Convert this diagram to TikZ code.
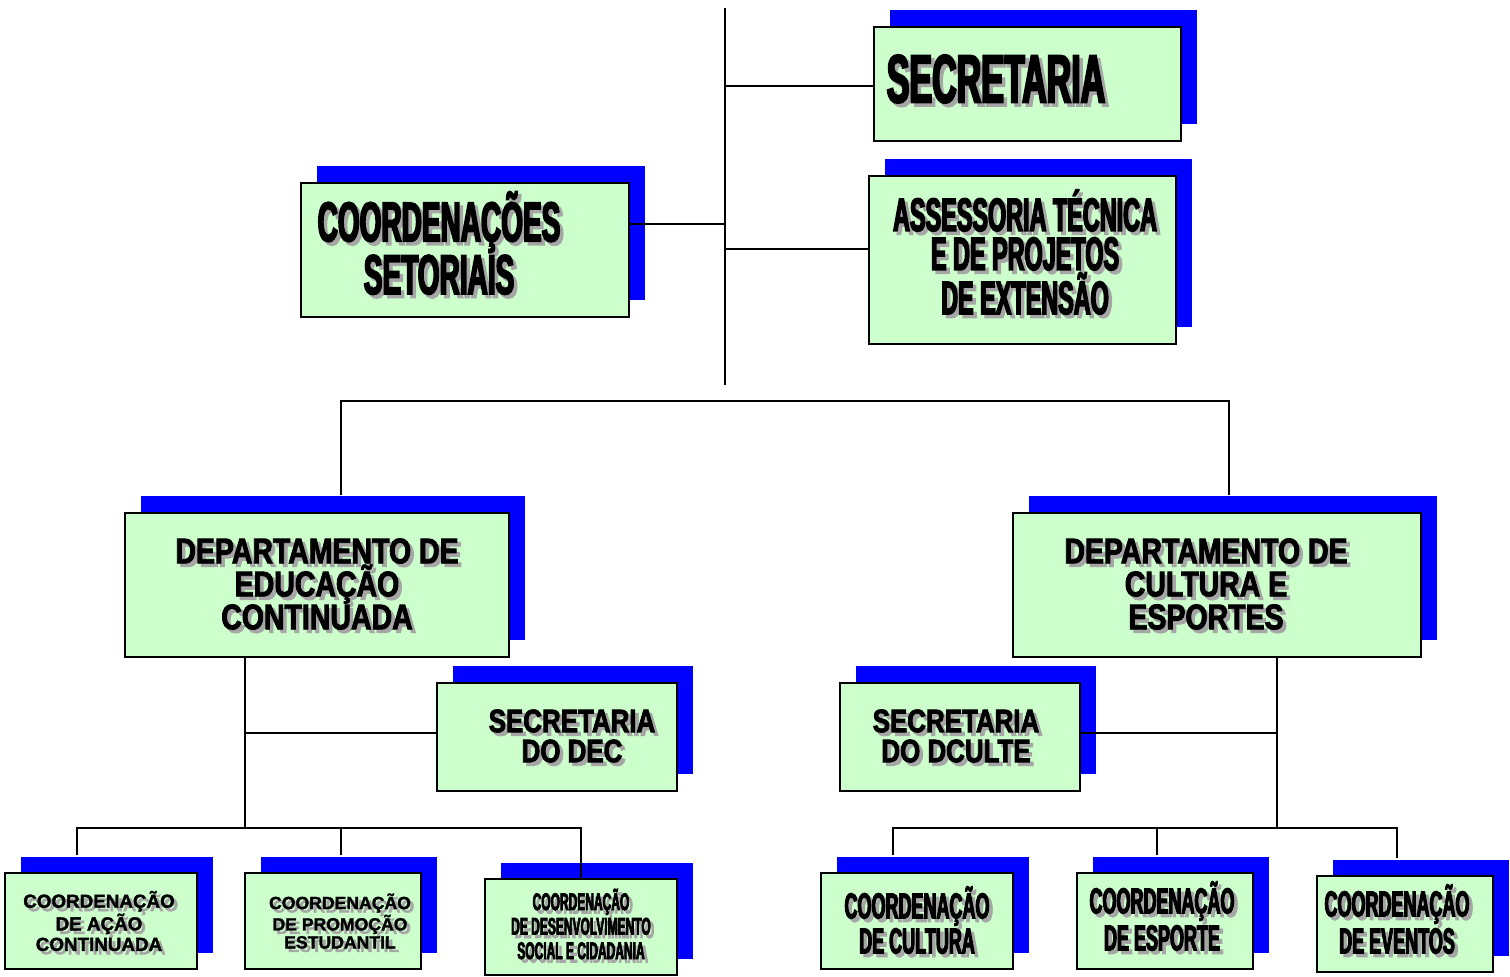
\documentclass[tikz,border=0pt]{standalone}
\usepackage{fontspec}
\usetikzlibrary{shadows}

\newfontfamily\impfont{Liberation Sans}[FakeStretch=0.5,BoldFeatures={FakeBold=3}]
\newfontfamily\blkfont{Liberation Sans}[FakeStretch=0.8,BoldFeatures={FakeBold=2.5}]
\newfontfamily\arlfont{Liberation Sans}[BoldFeatures={FakeBold=1.8}]

\definecolor{boxgreen}{HTML}{CCFFCC}
\definecolor{boxblue}{HTML}{0000FF}
\definecolor{textgray}{HTML}{A6A6A6}

\tikzset{
  orgbox/.style={draw=black, line width=1.2pt, fill=boxgreen, inner sep=0pt,
    drop shadow={shadow xshift=7.75pt, shadow yshift=8.25pt, fill=boxblue, opacity=1}},
  smallbox/.style={orgbox, minimum height=48pt},
  link/.style={line width=1pt},
  lbl/.style={align=center, inner sep=0pt},
}

% text with grey drop shadow: name, position, font, text
\newcommand{\shtext}[4]{%
  \node[lbl, font={#3}, text=textgray, xshift=1.75pt, yshift=-1.75pt] at #2 {#4};
  \node[lbl, font={#3}] (#1) at #2 {#4};}

\begin{document}
\begin{tikzpicture}[x=0.5pt, y=-0.5pt]
  \useasboundingbox (0,0) rectangle (1510,977);

  % Top level
  \node[orgbox, minimum width=153.5pt, minimum height=57pt] (sec) at (1027.5,84) {};
  \node[orgbox, minimum width=153.5pt, minimum height=84pt] (ate) at (1022.5,260) {};
  \node[orgbox, minimum width=164pt, minimum height=67pt] (cs) at (465,250) {};
  \shtext{tsec}{(996,79)}{\impfont\bfseries\fontsize{34}{36}\selectfont}{SECRETARIA}
  \shtext{tate}{(1025,252)}{\impfont\bfseries\fontsize{23.4}{19.5}\selectfont}{ASSESSORIA TÉCNICA\\E DE PROJETOS\\DE EXTENSÃO}
  \shtext{tcs}{(439,243)}{\impfont\bfseries\fontsize{28}{24.5}\selectfont}{COORDENAÇÕES\\SETORIAIS}

  % Departments
  \node[orgbox, minimum width=192pt, minimum height=72pt] (dec) at (317,585) {};
  \node[orgbox, minimum width=204pt, minimum height=72pt] (dce) at (1217,585) {};
  \shtext{tdec}{(317,584)}{\blkfont\bfseries\fontsize{17.8}{16.5}\selectfont}{DEPARTAMENTO DE\\EDUCAÇÃO\\CONTINUADA}
  \shtext{tdce}{(1206,584)}{\blkfont\bfseries\fontsize{17.8}{16.5}\selectfont}{DEPARTAMENTO DE\\CULTURA E\\ESPORTES}

  % Department secretaries
  \node[orgbox, minimum width=120pt, minimum height=54pt] (sdec) at (557,737) {};
  \node[orgbox, minimum width=120pt, minimum height=54pt] (sdce) at (960,737) {};
  \shtext{tsdec}{(572,736)}{\blkfont\bfseries\fontsize{16.2}{15}\selectfont}{SECRETARIA\\DO DEC}
  \shtext{tsdce}{(956,736)}{\blkfont\bfseries\fontsize{16.2}{15}\selectfont}{SECRETARIA\\DO DCULTE}

  % Coordinations DEC
  \node[smallbox, minimum width=96pt] (cac) at (101,921) {};
  \node[smallbox, minimum width=88pt] (cpe) at (333,921) {};
  \node[smallbox, minimum width=96pt] (cdsc) at (581,927) {};
  \shtext{tcac}{(99,921)}{\arlfont\bfseries\fontsize{9.4}{10.25}\selectfont}{COORDENAÇÃO\\DE AÇÃO\\CONTINUADA}
  \shtext{tcpe}{(340,921)}{\arlfont\bfseries\fontsize{8.8}{9}\selectfont}{COORDENAÇÃO\\DE PROMOÇÃO\\ESTUDANTIL}
  \shtext{tcdsc}{(581,924)}{\impfont\bfseries\fontsize{12}{12.25}\selectfont}{COORDENAÇÃO\\DE DESENVOLVIMENTO\\SOCIAL E CIDADANIA}

  % Coordinations DCULTE
  \node[smallbox, minimum width=96pt] (ccu) at (917,921) {};
  \node[smallbox, minimum width=88pt] (ces) at (1165,921) {};
  \node[smallbox, minimum width=88pt] (cev) at (1405,924) {};
  \shtext{tccu}{(917,920)}{\impfont\bfseries\fontsize{18}{17.5}\selectfont}{COORDENAÇÃO\\DE CULTURA}
  \shtext{tces}{(1162,916)}{\impfont\bfseries\fontsize{18}{18.5}\selectfont}{COORDENAÇÃO\\DE ESPORTE}
  \shtext{tcev}{(1397,919)}{\impfont\bfseries\fontsize{18}{18.5}\selectfont}{COORDENAÇÃO\\DE EVENTOS}

  % Trunk and top links
  \coordinate (top) at (725,8);
  \coordinate (bot) at (725,385);
  \draw[link] (top) -- (bot);
  \draw[link] ([yshift=-1pt]sec.west) -- +(-149,0);
  \draw[link] ([yshift=5.5pt]ate.west) -- +(-144,0);
  \draw[link] ([yshift=13pt]cs.east) -- +(96,0);

  % Bar to departments
  \draw[link] ([xshift=12pt,yshift=8.25pt]dec.north) -- ++(0,-94) -| ([xshift=6pt,yshift=8.25pt]dce.north);

  % DEC branch
  \coordinate (lbar) at (245,829);
  \draw[link] ([xshift=-36pt]dec.south) -- (lbar);
  \draw[link] ([yshift=2pt]sdec.west) -- +(-192,0);
  \draw[link] ([xshift=-12pt,yshift=8.25pt]cac.north) -- ++(0,-27) -| (cdsc.north);
  \draw[link] ([xshift=4pt,yshift=8.25pt]cpe.north) -- +(0,-27);

  % DCULTE branch
  \coordinate (rbar) at (1277,829);
  \draw[link] ([xshift=30pt]dce.south) -- (rbar);
  \draw[link] ([yshift=2pt]sdce.east) -- +(197,0);
  \draw[link] ([xshift=-12pt,yshift=8.25pt]ccu.north) -- ++(0,-27) -| ([xshift=-4pt,yshift=8.25pt]cev.north);
  \draw[link] ([xshift=-4pt,yshift=8.25pt]ces.north) -- +(0,-27);
\end{tikzpicture}
\end{document}
